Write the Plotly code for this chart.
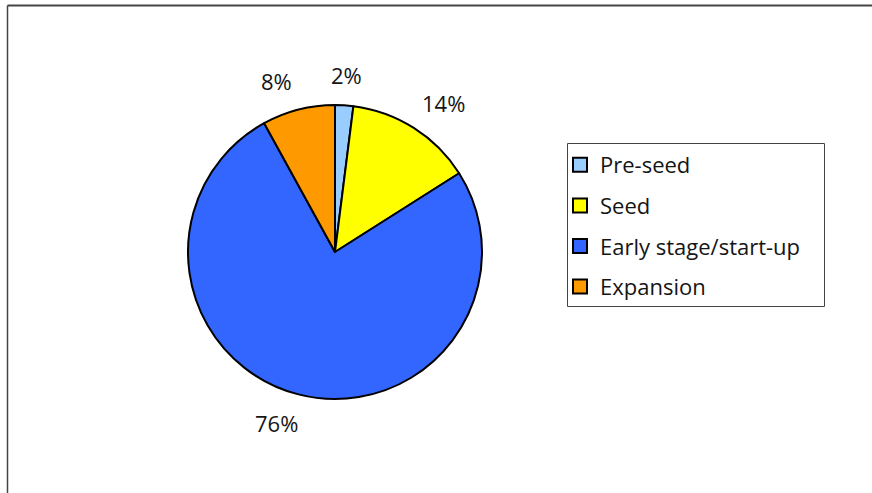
import math
import plotly.graph_objects as go

labels = ["Pre-seed", "Seed", "Early stage/start-up", "Expansion"]
values = [2, 14, 76, 8]
colors = ["#99CCFF", "#FFFF00", "#3366FF", "#FF9900"]

W, H = 872, 493
FONT = "'Open Sans', Lato, sans-serif"
TXT = "#151515"

# pie geometry (pixels)
CX, CY, R = 335, 252, 147

fig = go.Figure()
fig.add_trace(go.Pie(
    labels=labels, values=values, sort=False, direction="clockwise", rotation=0,
    marker=dict(colors=colors, line=dict(color="black", width=2)),
    textinfo="none",
    domain=dict(x=[(CX - R) / W, (CX + R) / W], y=[1 - (CY + R) / H, 1 - (CY - R) / H]),
    showlegend=False, hoverinfo="label+percent",
))

# percentage labels outside the slices, placed from the slice mid-angles
total = sum(values)
cum = 0
annotations = []
for v in values:
    mid = (cum + v / 2) / total * 2 * math.pi
    cum += v
    s, c = math.sin(mid), math.cos(mid)
    d = 177
    xs = 14 * (1 if s > 0 else -1) if abs(s) > 0.2 else 0
    annotations.append(dict(
        x=(CX + d * s) / W, y=1 - (CY - d * c) / H, xref="paper", yref="paper",
        text=f"{round(v / total * 100)}%", showarrow=False, xshift=xs,
        xanchor="center", yanchor="middle",
        font=dict(size=22, color=TXT, family=FONT),
    ))

# legend entries (one per category, spaced like the original)
for i, (lab, col) in enumerate(zip(labels, colors)):
    fig.add_trace(go.Scatter(
        x=[None], y=[None], mode="markers", name=lab, legendgroup=f"g{i}",
        marker=dict(symbol="square", size=14, color=col, line=dict(color="black", width=2)),
    ))

fig.update_layout(
    width=W, height=H, margin=dict(l=0, r=0, t=0, b=0),
    paper_bgcolor="white", plot_bgcolor="white",
    xaxis=dict(visible=False), yaxis=dict(visible=False),
    font=dict(family=FONT, size=20, color=TXT),
    annotations=annotations,
    legend=dict(x=560 / W, y=1 - 144 / H, xanchor="left", yanchor="top",
                borderwidth=0, bgcolor="rgba(0,0,0,0)",
                font=dict(size=22, family=FONT, color=TXT),
                tracegroupgap=9, itemwidth=30),
    shapes=[
        dict(type="rect", xref="paper", yref="paper", x0=567.5 / W, x1=824.5 / W,
             y0=1 - 306.5 / H, y1=1 - 143.5 / H, line=dict(color="#444", width=1), layer="below"),
        dict(type="line", xref="paper", yref="paper", x0=7.5 / W, x1=1, y0=1 - 5.5 / H, y1=1 - 5.5 / H,
             line=dict(color="#444", width=2)),
        dict(type="line", xref="paper", yref="paper", x0=7.5 / W, x1=7.5 / W, y0=0, y1=1 - 5.5 / H,
             line=dict(color="#444", width=1.5)),
    ],
)
fig.write_html("out.html", config={"displayModeBar": False},
               post_script="document.body.style.margin='0';")
